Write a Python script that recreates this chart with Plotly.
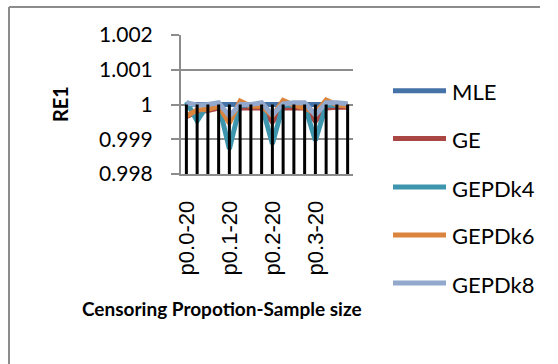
import plotly.graph_objects as go

# Category labels: censoring proportion - sample size
categories = [
    "p0.0-20", "p0.0-30", "p0.0-50", "p0.0-100",
    "p0.1-20", "p0.1-30", "p0.1-50", "p0.1-100",
    "p0.2-20", "p0.2-30", "p0.2-50", "p0.2-100",
    "p0.3-20", "p0.3-30", "p0.3-50", "p0.3-100",
]
shown_ticks = ["p0.0-20", "p0.1-20", "p0.2-20", "p0.3-20"]

# RE1 values per estimator
mle = [1.0] * 16
ge = [0.99965, 0.99980, 0.99983, 0.99990, 0.99955, 0.99990, 0.99990, 0.99990,
      0.99949, 0.99990, 0.99990, 0.99990, 0.99952, 0.99990, 0.99992, 0.99992]
gepdk4 = [1.00008, 0.99953, 1.00000, 1.00000, 0.99872, 0.99998, 0.99998, 0.99998,
          0.99887, 0.99998, 0.99998, 0.99998, 0.99896, 0.99998, 0.99998, 0.99998]
gepdk6 = [0.99967, 0.99984, 0.99986, 0.99995, 0.99946, 1.00010, 0.99995, 0.99995,
          0.99967, 1.00012, 0.99998, 0.99990, 0.99976, 1.00013, 0.99999, 0.99995]
gepdk8 = [1.00005, 0.99998, 1.00000, 1.00005, 0.99967, 1.00000, 1.00000, 1.00005,
          0.99970, 1.00002, 1.00005, 1.00005, 0.99970, 1.00005, 1.00005, 1.00002]

series_names = ["MLE", "GE", "GEPDk4", "GEPDk6", "GEPDk8"]
series_values = [mle, ge, gepdk4, gepdk6, gepdk8]
series_colors = ["#4572A7", "#AA4643", "#3D96AE", "#DB843D", "#92A8CD"]

y_ticks = [0.998, 0.999, 1.0, 1.001, 1.002]
y_tick_text = ["0.998", "0.999", "1", "1.001", "1.002"]
y_min, y_max = 0.998, 1.002

W, H = 558, 364
L, R, T, B = 181, 205, 35, 190
FONT = "Lato"
GRID = "#8C8C8C"


def xp(px):
    return (px - L) / (W - L - R)


def yp(py):
    return (H - B - py) / (H - T - B)


fig = go.Figure()

for name, vals, col in zip(series_names, series_values, series_colors):
    fig.add_trace(go.Scatter(
        x=categories, y=vals, mode="lines", name=name,
        line=dict(color=col, width=5), showlegend=False,
    ))

# Drop lines from each category's MLE value down to the axis floor
dx, dy = [], []
for c, v in zip(categories, mle):
    dx += [c, c, None]
    dy += [v, y_min, None]
fig.add_trace(go.Scatter(
    x=dx, y=dy, mode="lines", line=dict(color="black", width=3),
    showlegend=False, hoverinfo="skip",
))

shapes = [
    # outer chart frame (top and left edges)
    dict(type="line", xref="paper", yref="paper", x0=xp(9), x1=xp(540),
         y0=yp(7), y1=yp(7), line=dict(color=GRID, width=2)),
    dict(type="line", xref="paper", yref="paper", x0=xp(9), x1=xp(9),
         y0=yp(7), y1=yp(H), line=dict(color=GRID, width=2)),
]
annotations = []

# Legend drawn as line keys with labels
leg_y = [90.7, 138.5, 187, 235, 283]
for name, col, ly in zip(series_names, series_colors, leg_y):
    shapes.append(dict(type="line", xref="paper", yref="paper",
                       x0=xp(393), x1=xp(446), y0=yp(ly), y1=yp(ly),
                       line=dict(color=col, width=5)))
    annotations.append(dict(text=name, xref="paper", yref="paper",
                            x=xp(450), y=yp(ly + 1), xanchor="left", yanchor="middle",
                            showarrow=False, font=dict(family=FONT, size=22, color="black")))

annotations.append(dict(text="<b>Censoring Propotion-Sample size</b>", xref="paper", yref="paper",
                        x=xp(222), y=yp(308), xanchor="center", yanchor="middle",
                        showarrow=False, font=dict(family=FONT, size=19, color="black")))
annotations.append(dict(text="<b>RE1</b>", xref="paper", yref="paper",
                        x=xp(60), y=yp(104), xanchor="center", yanchor="middle", textangle=-90,
                        showarrow=False, font=dict(family=FONT, size=20, color="black")))

fig.update_layout(
    width=W, height=H,
    margin=dict(l=L, r=R, t=T, b=B),
    paper_bgcolor="white", plot_bgcolor="white",
    shapes=shapes, annotations=annotations,
    showlegend=False,
)
fig.update_xaxes(
    type="category", categoryorder="array", categoryarray=categories,
    range=[-0.5, 15.5], tickmode="array", tickvals=shown_ticks, ticktext=shown_ticks,
    tickangle=-90, ticks="", showgrid=False, showline=True, linecolor=GRID, linewidth=2,
    ticklabelstandoff=16, tickfont=dict(family="Liberation Sans", size=22, color="black"),
)
fig.update_yaxes(
    range=[y_min, y_max], tickmode="array", tickvals=y_ticks, ticktext=y_tick_text,
    showgrid=True, gridcolor=GRID, gridwidth=2, zeroline=False,
    showline=True, linecolor=GRID, linewidth=2,
    ticks="outside", ticklen=8, tickcolor=GRID, tickwidth=2,
    ticklabelstandoff=14, tickfont=dict(family=FONT, size=21, color="black"),
)

fig.write_html("out.html")
